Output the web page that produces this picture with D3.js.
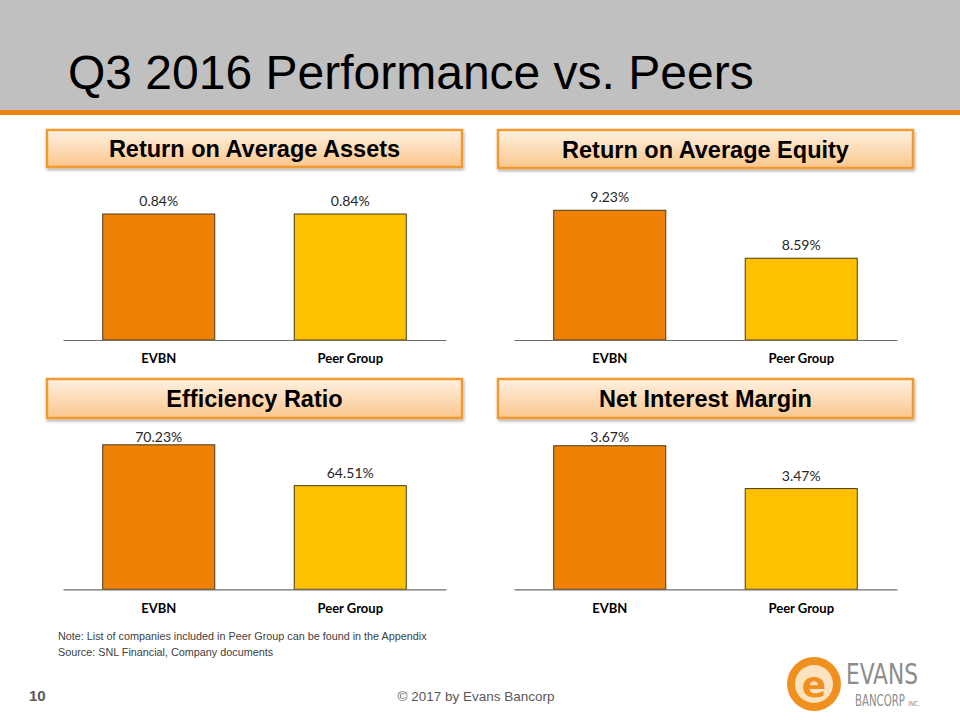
<!DOCTYPE html>
<html>
<head>
<meta charset="utf-8">
<script src="https://cdn.jsdelivr.net/npm/d3@7"></script>
<style>
  html, body { margin: 0; padding: 0; background: #fff; }
  svg { display: block; }
</style>
</head>
<body>
<svg id="chart" width="960" height="720"></svg>
<script>
// ---------- DATA ----------
const categories = ["EVBN", "Peer Group"];
const panelTitles = ["Return on Average Assets", "Return on Average Equity", "Efficiency Ratio", "Net Interest Margin"];
const roaaValues = [0.84, 0.84];
const roaeValues = [9.23, 8.59];
const efficiencyValues = [70.23, 64.51];
const nimValues = [3.67, 3.47];
const roaaDomain = [0, 1.0];
const roaeDomain = [7.5, 9.5];
const efficiencyDomain = [50, 71];
const nimDomain = [3.0, 3.7];
const slideTitle = "Q3 2016 Performance vs. Peers";
const noteLines = ["Note: List of companies included in Peer Group can be found in the Appendix",
                   "Source: SNL Financial, Company documents"];
const pageNumber = "10";
const copyright = "\u00A9 2017 by Evans Bancorp";

// ---------- LAYOUT ----------
const svg = d3.select("#chart");
const defs = svg.append("defs");

const grad = defs.append("linearGradient").attr("id", "boxGrad")
  .attr("x1", 0).attr("y1", 0).attr("x2", 0).attr("y2", 1);
grad.append("stop").attr("offset", "0%").attr("stop-color", "#FFF1E2");
grad.append("stop").attr("offset", "100%").attr("stop-color", "#FAC68C");

const shadow = defs.append("filter").attr("id", "shadow")
  .attr("x", "-5%").attr("y", "-20%").attr("width", "110%").attr("height", "160%");
shadow.append("feDropShadow").attr("dx", 1).attr("dy", 2).attr("stdDeviation", 1.5)
  .attr("flood-color", "#000").attr("flood-opacity", 0.3);

// header
svg.append("rect").attr("x", 0).attr("y", 0).attr("width", 960).attr("height", 110).attr("fill", "#C0C0C0");
svg.append("rect").attr("x", 0).attr("y", 110).attr("width", 960).attr("height", 5).attr("fill", "#EE8410");
svg.append("text").attr("x", 68).attr("y", 89)
  .attr("font-family", "'Liberation Sans', Arial, sans-serif").attr("font-size", 48)
  .attr("fill", "#000").text(slideTitle);

const panels = [
  { title: panelTitles[0], values: roaaValues, domain: roaaDomain, x0: 63, base: 340, box: [47, 130, 415, 37] },
  { title: panelTitles[1], values: roaeValues, domain: roaeDomain, x0: 514, base: 340, box: [498, 130, 415, 38] },
  { title: panelTitles[2], values: efficiencyValues, domain: efficiencyDomain, x0: 63, base: 589.3, box: [47, 379, 415, 39] },
  { title: panelTitles[3], values: nimValues, domain: nimDomain, x0: 514, base: 589.3, box: [498, 379, 415, 39] }
];
const plotW = 383, plotH = 150;
const barColors = ["#EE8106", "#FFC000"];

panels.forEach(p => {
  const [bx, by, bw, bh] = p.box;
  svg.append("rect").attr("x", bx).attr("y", by).attr("width", bw).attr("height", bh)
    .attr("fill", "url(#boxGrad)").attr("stroke", "#F29A30").attr("stroke-width", 2.5)
    .attr("filter", "url(#shadow)");
  svg.append("text").attr("x", bx + bw / 2).attr("y", by + bh / 2 + 8.5)
    .attr("text-anchor", "middle")
    .attr("font-family", "'Liberation Sans', Arial, sans-serif").attr("font-weight", "bold")
    .attr("font-size", 23.5).attr("fill", "#000").text(p.title);

  const g = svg.append("g");
  const x = d3.scaleBand().domain(categories).range([p.x0, p.x0 + plotW])
    .paddingInner(0.415).paddingOuter(0.2075);
  const y = d3.scaleLinear().domain(p.domain).range([p.base, p.base - plotH]);

  g.selectAll("rect.bar").data(categories).join("rect")
    .attr("class", "bar")
    .attr("x", d => x(d))
    .attr("width", x.bandwidth())
    .attr("y", (d, i) => y(p.values[i]))
    .attr("height", (d, i) => p.base - y(p.values[i]))
    .attr("fill", (d, i) => barColors[i])
    .attr("stroke", "#4A3B20").attr("stroke-width", 1);

  const axis = d3.axisBottom(x).tickSize(0).tickPadding(14);
  const ax = g.append("g").attr("transform", `translate(0,${p.base})`).call(axis);
  ax.select(".domain").attr("stroke", "#6E6E6E").attr("stroke-width", 1.2);
  ax.selectAll("text")
    .attr("font-family", "Lato, 'Open Sans', sans-serif").attr("font-weight", "bold")
    .attr("font-size", 13).attr("fill", "#000");

  g.selectAll("text.val").data(categories).join("text")
    .attr("class", "val")
    .attr("x", d => x(d) + x.bandwidth() / 2)
    .attr("y", (d, i) => Math.max(y(p.values[i]) - 13, p.base - 152.6))
    .attr("dy", "0.36em")
    .attr("text-anchor", "middle")
    .attr("font-family", "Lato, 'Open Sans', sans-serif")
    .attr("font-size", 14).attr("fill", "#262626")
    .text((d, i) => p.values[i].toFixed(2) + "%");
});

// notes
noteLines.forEach((t, i) => {
  svg.append("text").attr("x", 58).attr("y", 640 + i * 16)
    .attr("font-family", "'Liberation Sans', Arial, sans-serif").attr("font-size", 10.8)
    .attr("fill", "#404040").text(t);
});

// footer
svg.append("text").attr("x", 29).attr("y", 701)
  .attr("font-family", "'Liberation Sans', Arial, sans-serif").attr("font-weight", "bold")
  .attr("font-size", 15).attr("fill", "#595959").text(pageNumber);
svg.append("text").attr("x", 476).attr("y", 701).attr("text-anchor", "middle")
  .attr("font-family", "'Liberation Sans', Arial, sans-serif").attr("font-size", 13.5)
  .attr("fill", "#595959").text(copyright);

// logo
const logo = svg.append("g");
logo.append("circle").attr("cx", 814).attr("cy", 684).attr("r", 27).attr("fill", "#F0901E");
logo.append("circle").attr("cx", 814).attr("cy", 684).attr("r", 19).attr("fill", "#FDE3C0");
logo.append("text").attr("x", 814).attr("y", 697).attr("text-anchor", "middle")
  .attr("font-family", "'DejaVu Sans', sans-serif").attr("font-weight", "bold")
  .attr("font-size", 36).attr("fill", "#F0901E").text("e");

function squeezedText(str, x0, yBase, size, width) {
  const grp = logo.append("g");
  const t = grp.append("text").attr("x", 0).attr("y", 0)
    .attr("font-family", "'DejaVu Sans Condensed', 'DejaVu Sans', sans-serif")
    .attr("font-size", size).attr("fill", "#8C8C8C").text(str);
  const natural = t.node().getComputedTextLength() || width;
  grp.attr("transform", `translate(${x0},${yBase}) scale(${width / natural},1)`);
}
squeezedText("EVANS", 846, 684, 28, 72);
squeezedText("BANCORP", 855, 706, 16, 50);
squeezedText("INC.", 908, 706, 7, 12);
</script>
</body>
</html>
